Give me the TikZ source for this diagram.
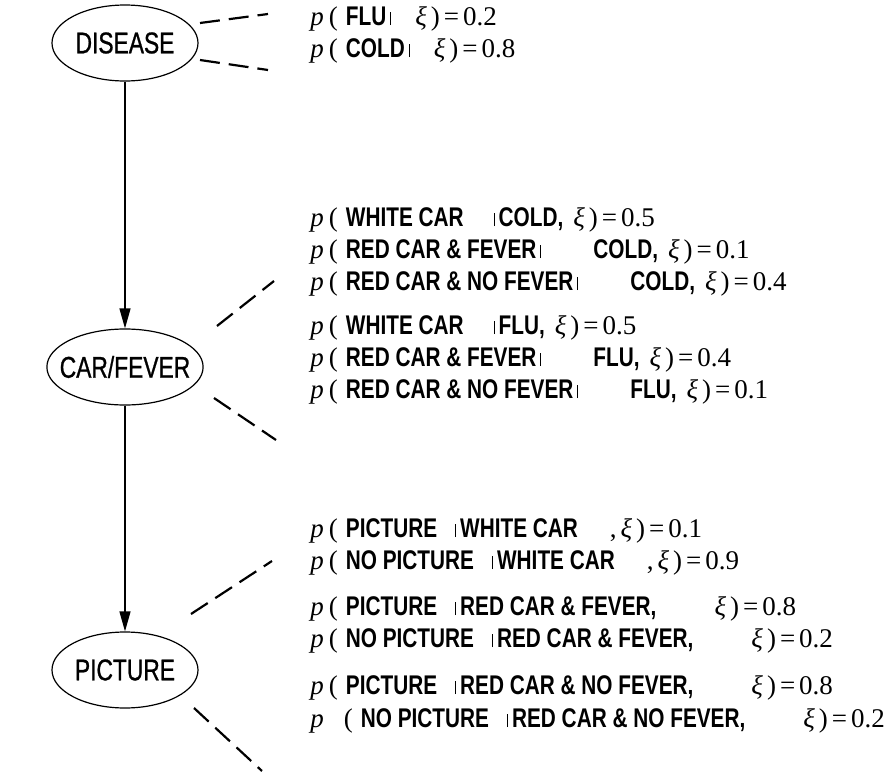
\documentclass[tikz,border=0pt]{standalone}
\usepackage{fontspec}
\setmainfont{Liberation Serif}
\newfontfamily\labelfont[FakeStretch=0.77]{Liberation Sans}
\newfontfamily\varfont[FakeStretch=0.76, FakeBold=0.8]{Liberation Sans}
\usetikzlibrary{arrows.meta,shapes.geometric}

% bold sans event names, thin conditioning bar, p( and xi )=
\newcommand{\lbl}[1]{{\labelfont\fontsize{13.5}{15}\selectfont\bfseries #1}}
\newcommand{\given}{{\rule{0.5pt}{0.5em}}\hspace{2pt}}
\newcommand{\pr}{\textit{p}\hspace{2.5pt}(\hspace{4pt}}
\newcommand{\xieq}[1]{\textit{ξ}\hspace{2pt})\hspace{2pt}=\hspace{2pt}#1}

\begin{document}
\begin{tikzpicture}[x=0.5pt, y=-0.5pt, >={Triangle[length=10pt,width=5.5pt]},
    varnode/.style={draw, ellipse, line width=0.6pt, minimum width=73pt,
        minimum height=38pt, inner xsep=-5pt, inner ysep=0pt,
        font=\varfont\fontsize{15}{17}\selectfont},
    cpt/.style={anchor=base west, inner sep=0pt,
        font=\fontsize{13.5}{15}\selectfont},
    link/.style={line width=1.1pt, dash pattern=on 10pt off 4.5pt}]
    \useasboundingbox (0,0) rectangle (891,782);

    % Variables
    \node[varnode] (disease) at (125,43) {DISEASE};
    \node[varnode, minimum width=78pt] (carfever) at (125,367) {CAR/FEVER};
    \node[varnode] (picture) at (125,670) {PICTURE};

    % Arcs
    \draw[->, line width=0.6pt] (disease) -- (carfever);
    \draw[->, line width=0.6pt] (carfever) -- (picture);

    % Prior of DISEASE
    \node[cpt] (flu) at (310,25) {\pr\lbl{FLU}\hspace{2pt}\given\hspace{10pt}\xieq{0.2}};
    \node[cpt] (cold) at (310,57) {\pr\lbl{COLD}\hspace{2pt}\given\hspace{10pt}\xieq{0.8}};

    % CAR/FEVER given DISEASE
    \node[cpt] (wc-cold) at (310,226)
        {\pr\lbl{WHITE CAR}\hspace{15pt}\given\lbl{COLD,}\hspace{5pt}\xieq{0.5}};
    \node[cpt] (rf-cold) at (310,258)
        {\pr\lbl{RED CAR \& FEVER}\hspace{2pt}\given\hspace{24pt}\lbl{COLD,}\hspace{5pt}\xieq{0.1}};
    \node[cpt] (rn-cold) at (310,290)
        {\pr\lbl{RED CAR \& NO FEVER}\hspace{2pt}\given\hspace{24pt}\lbl{COLD,}\hspace{5pt}\xieq{0.4}};
    \node[cpt] (wc-flu) at (310,334)
        {\pr\lbl{WHITE CAR}\hspace{15pt}\given\lbl{FLU,}\hspace{5pt}\xieq{0.5}};
    \node[cpt] (rf-flu) at (310,366)
        {\pr\lbl{RED CAR \& FEVER}\hspace{2pt}\given\hspace{24pt}\lbl{FLU,}\hspace{5pt}\xieq{0.4}};
    \node[cpt] (rn-flu) at (310,398)
        {\pr\lbl{RED CAR \& NO FEVER}\hspace{2pt}\given\hspace{24pt}\lbl{FLU,}\hspace{5pt}\xieq{0.1}};

    % PICTURE given CAR/FEVER
    \node[cpt] (pic-wc) at (310,537)
        {\pr\lbl{PICTURE}\hspace{9pt}\given\lbl{WHITE CAR}\hspace{16pt},\hspace{2pt}\xieq{0.1}};
    \node[cpt] (nopic-wc) at (310,569)
        {\pr\lbl{NO PICTURE}\hspace{9pt}\given\lbl{WHITE CAR}\hspace{16pt},\hspace{2pt}\xieq{0.9}};
    \node[cpt] (pic-rf) at (310,615)
        {\pr\lbl{PICTURE}\hspace{9pt}\given\lbl{RED CAR \& FEVER,}\hspace{29pt}\xieq{0.8}};
    \node[cpt] (nopic-rf) at (310,647)
        {\pr\lbl{NO PICTURE}\hspace{9pt}\given\lbl{RED CAR \& FEVER,}\hspace{29pt}\xieq{0.2}};
    \node[cpt] (pic-rn) at (310,694)
        {\pr\lbl{PICTURE}\hspace{9pt}\given\lbl{RED CAR \& NO FEVER,}\hspace{29pt}\xieq{0.8}};
    \node[cpt] (nopic-rn) at (310,727)
        {\textit{p}\hspace{10pt}(\hspace{4pt}\lbl{NO PICTURE}\hspace{9pt}\given\lbl{RED CAR \& NO FEVER,}\hspace{29pt}\xieq{0.2}};

    % Dashed ties from variables to their tables
    \coordinate (dis-up-a) at (200,23);
    \coordinate (dis-up-b) at (268,14);
    \coordinate (dis-lo-a) at (200,60);
    \coordinate (dis-lo-b) at (268,70);
    \coordinate (cf-up-a) at (217,326);
    \coordinate (cf-up-b) at (274,281);
    \coordinate (cf-lo-a) at (214,398);
    \coordinate (cf-lo-b) at (276,440);
    \coordinate (pic-up-a) at (191,614);
    \coordinate (pic-up-b) at (272,561);
    \coordinate (pic-lo-a) at (194,708);
    \coordinate (pic-lo-b) at (262,771);
    \draw[link] (dis-up-a) -- (dis-up-b);
    \draw[link] (dis-lo-a) -- (dis-lo-b);
    \draw[link] (cf-up-a) -- (cf-up-b);
    \draw[link] (cf-lo-a) -- (cf-lo-b);
    \draw[link] (pic-up-a) -- (pic-up-b);
    \draw[link] (pic-lo-a) -- (pic-lo-b);
\end{tikzpicture}
\end{document}
